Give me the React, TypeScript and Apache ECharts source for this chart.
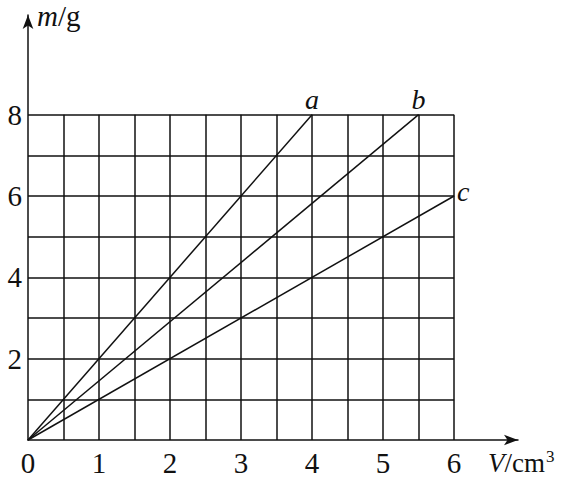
import React, { useEffect, useRef } from "react";
import * as echarts from "echarts";

const xTickLabels = [0, 1, 2, 3, 4, 5, 6];
const yTickLabels = [2, 4, 6, 8];
const verticalGrid = [0.5, 1, 1.5, 2, 2.5, 3, 3.5, 4, 4.5, 5, 5.5, 6];
const horizontalGrid = [1, 2, 3, 4, 5, 6, 7, 8];
const gridTop = 8;
const gridRight = 6;

const lineA: [number, number][] = [[0, 0], [4, 8]];
const lineB: [number, number][] = [[0, 0], [5.5, 8]];
const lineC: [number, number][] = [[0, 0], [6, 6]];
const lineNames = ["a", "b", "c"];

const FONT = "'Liberation Serif', 'Times New Roman', serif";

export default function App() {
  const ref = useRef<HTMLDivElement>(null);
  useEffect(() => {
    if (!ref.current) return;
    const chart = echarts.init(ref.current, null, { renderer: "svg" });

    const gridSegments = [
      ...verticalGrid.map((x) => ({ coords: [[x, 0], [x, gridTop]] })),
      ...horizontalGrid.map((y) => ({ coords: [[0, y], [gridRight, y]] })),
    ];

    const mkLine = (data: [number, number][], name: string, pos: string, dist: number, offset: number[]) => ({
      type: "line",
      data: data.map((p, i) =>
        i === data.length - 1
          ? {
              value: p,
              label: {
                show: true,
                formatter: name,
                position: pos,
                distance: dist,
                offset,
                fontFamily: FONT,
                fontStyle: "italic",
                fontSize: 28,
                color: "#111",
              },
            }
          : { value: p }
      ),
      symbol: "circle",
      symbolSize: 0,
      showSymbol: true,
      itemStyle: { color: "#111" },
      lineStyle: { color: "#111", width: 1.5 },
      silent: true,
      z: 3,
    });

    chart.setOption({
      animation: false,
      backgroundColor: "#fff",
      grid: { left: 28, top: 15, right: 46, bottom: 36, containLabel: false },
      xAxis: {
        type: "value",
        min: 0,
        max: 6.9,
        interval: 1,
        splitLine: { show: false },
        axisTick: { show: false },
        axisLine: {
          show: true,
          onZero: false,
          symbol: ["none", "arrow"],
          symbolSize: [8, 14],
          lineStyle: { color: "#111", width: 1.5 },
        },
        axisLabel: {
          margin: 8,
          fontFamily: FONT,
          fontSize: 29,
          color: "#111",
          showMaxLabel: false,
          formatter: (v: number) => (xTickLabels.includes(v) ? String(v) : ""),
        },
        name: "{i|V}/cm{sup|3}",
        nameLocation: "end",
        nameGap: -30,
        nameTextStyle: {
          fontFamily: FONT,
          fontSize: 27,
          color: "#111",
          align: "left",
          verticalAlign: "top",
          padding: [8, 0, 0, 0],
          rich: {
            i: { fontFamily: FONT, fontSize: 27, fontStyle: "italic", color: "#111" },
            sup: { fontFamily: FONT, fontSize: 17, color: "#111", padding: [0, 0, 12, 1] },
          },
        },
      },
      yAxis: {
        type: "value",
        min: 0,
        max: 10.45,
        interval: 2,
        splitLine: { show: false },
        axisTick: { show: false },
        axisLine: {
          show: true,
          onZero: false,
          symbol: ["none", "arrow"],
          symbolSize: [8, 14],
          lineStyle: { color: "#111", width: 1.5 },
        },
        axisLabel: {
          margin: 6,
          fontFamily: FONT,
          fontSize: 29,
          color: "#111",
          showMaxLabel: false,
          formatter: (v: number) => (yTickLabels.includes(v) ? String(v) : ""),
        },
        name: "{i|m}/g",
        nameLocation: "end",
        nameGap: -1,
        nameTextStyle: {
          fontFamily: FONT,
          fontSize: 29,
          color: "#111",
          align: "left",
          verticalAlign: "middle",
          padding: [0, 0, 0, 9],
          rich: { i: { fontFamily: FONT, fontSize: 29, fontStyle: "italic", color: "#111" } },
        },
      },
      series: [
        {
          type: "lines",
          coordinateSystem: "cartesian2d",
          data: gridSegments,
          lineStyle: { color: "#111", width: 1.5, opacity: 1 },
          silent: true,
          z: 2,
        },
        mkLine(lineA, lineNames[0], "top", 1, [0, 0]),
        mkLine(lineB, lineNames[1], "top", 1, [0, 0]),
        mkLine(lineC, lineNames[2], "right", 3, [0, -4]),
      ],
    });
    return () => chart.dispose();
  }, []);

  return (
    <div
      ref={ref}
      style={{ position: "absolute", left: 0, top: 0, width: 564, height: 477 }}
    />
  );
}
